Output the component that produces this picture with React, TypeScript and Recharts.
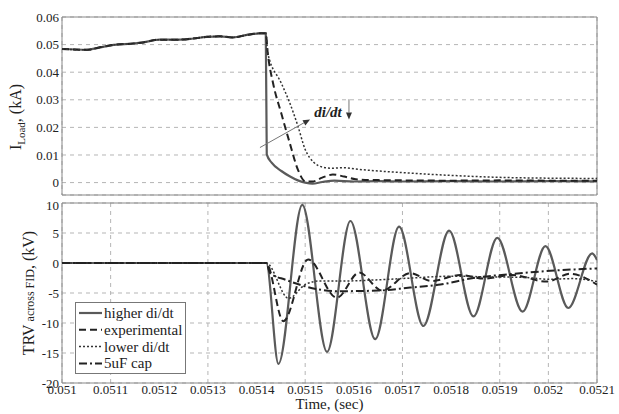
import {
  LineChart,
  Line,
  XAxis,
  YAxis,
  CartesianGrid,
  ReferenceArea,
  ReferenceLine,
  ReferenceDot,
  Legend,
} from "recharts";

const FONT = "'Liberation Serif', 'Times New Roman', serif";

// x axis
const timeTicks = [0.051, 0.0511, 0.0512, 0.0513, 0.0514, 0.0515, 0.0516, 0.0517, 0.0518, 0.0519, 0.052, 0.0521];
const timeTickLabels = ["0.051", "0.0511", "0.0512", "0.0513", "0.0514", "0.0515", "0.0516", "0.0517", "0.0518", "0.0519", "0.052", "0.0521"];

// top panel: load current (kA)
const loadTicks = [0, 0.01, 0.02, 0.03, 0.04, 0.05, 0.06];
const loadTickLabels = ["0", "0.01", "0.02", "0.03", "0.04", "0.05", "0.06"];

const preTimes = [0.051, 0.051051, 0.051078, 0.051106, 0.051147, 0.051167, 0.0512, 0.051243, 0.05127, 0.051298, 0.051325, 0.051352, 0.05138, 0.051407, 0.051419];
const preLoad = [0.0484, 0.0481, 0.049, 0.0499, 0.0504, 0.0508, 0.0518, 0.0518, 0.0522, 0.0528, 0.053, 0.0526, 0.0535, 0.0541, 0.0541];

const highLoadTimes = [0.051421, 0.051431, 0.051451, 0.051468, 0.051485, 0.0515, 0.051515, 0.051535, 0.05156, 0.0516, 0.05165, 0.0517, 0.0518, 0.0519, 0.052, 0.0521];
const highLoad = [0.0102, 0.0072, 0.0042, 0.0023, 0.0008, 0.0, -0.0004, 0.0002, 0.0007, 0.0004, 0.0005, 0.0004, 0.0005, 0.0004, 0.0005, 0.0004];

const expLoadTimes = [0.051423, 0.051434, 0.051451, 0.051468, 0.051485, 0.0515, 0.051515, 0.051535, 0.051557, 0.05158, 0.051604, 0.05165, 0.0517, 0.0518, 0.0519, 0.052, 0.0521];
const expLoad = [0.047, 0.036, 0.025, 0.0145, 0.0047, 0.0005, 0.0004, 0.0018, 0.0029, 0.0022, 0.0012, 0.0009, 0.0008, 0.0007, 0.0008, 0.0007, 0.0007];

const lowLoadTimes = [0.051423, 0.051451, 0.051468, 0.051485, 0.0515, 0.051518, 0.051536, 0.051555, 0.051578, 0.051604, 0.05165, 0.0517, 0.0518, 0.0519, 0.052, 0.0521];
const lowLoad = [0.047, 0.036, 0.029, 0.0205, 0.012, 0.0073, 0.0056, 0.0052, 0.0054, 0.0049, 0.0042, 0.0036, 0.0026, 0.0019, 0.0016, 0.0015];

// bottom panel: TRV (kV)
const trvTicks = [-20, -15, -10, -5, 0, 5, 10];

const preTrvTimes = [0.051, 0.05142];
const preTrv = [0, 0];

const highTrvTimes = [0.051445, 0.051494, 0.051545, 0.051593, 0.051644, 0.051693, 0.051743, 0.051796, 0.051846, 0.051895, 0.051947, 0.051994, 0.052041, 0.05209, 0.0521];
const highTrv = [-16.8, 9.7, -14.8, 7.0, -12.7, 6.05, -10.5, 5.4, -8.9, 4.2, -8.1, 2.8, -7.5, 1.6, 0.5];

const expTrvTimes = [0.051455, 0.051506, 0.051565, 0.051611, 0.051658, 0.051716, 0.05176, 0.051819, 0.051868, 0.051925, 0.051997, 0.052045, 0.0521];
const expTrv = [-9.7, 0.6, -5.8, -1.6, -4.6, -1.7, -3.0, -2.0, -2.6, -2.0, -3.1, -1.8, -3.6];

const lowTrvTimes = [0.051466, 0.0515, 0.05153, 0.05158, 0.05165, 0.05172, 0.0518, 0.05187, 0.05195, 0.052, 0.05205, 0.0521];
const lowTrv = [-5.9, -3.6, -3.0, -3.0, -2.8, -2.5, -2.2, -2.3, -2.4, -2.7, -2.6, -3.1];

const capTrvTimes = [0.051428, 0.05146, 0.0515, 0.051568, 0.05165, 0.051716, 0.051778, 0.051846, 0.051915, 0.052004, 0.0521];
const capTrv = [-1.7, -2.8, -3.9, -4.7, -4.6, -4.1, -3.6, -2.5, -1.9, -1.3, -0.9];

const seriesNames = ["higher di/dt", "experimental", "lower di/dt", "5uF cap"];
const seriesStyle = [
  { stroke: "#5a5a5a", width: 2.2, dash: undefined },
  { stroke: "#222", width: 2, dash: "7 4" },
  { stroke: "#333", width: 1.5, dash: "2 2" },
  { stroke: "#222", width: 2, dash: "8 3 2 3" },
];

const zip = (ts: number[], vs: number[]) => ts.map((t, i) => ({ t, v: vs[i] }));

const loadSeries = [
  zip([...preTimes, ...highLoadTimes], [...preLoad, ...highLoad]),
  zip([...preTimes, ...expLoadTimes], [...preLoad, ...expLoad]),
  zip([...preTimes, ...lowLoadTimes], [...preLoad, ...lowLoad]),
];
const trvSeries = [
  zip([...preTrvTimes, ...highTrvTimes], [...preTrv, ...highTrv]),
  zip([...preTrvTimes, ...expTrvTimes], [...preTrv, ...expTrv]),
  zip([...preTrvTimes, ...lowTrvTimes], [...preTrv, ...lowTrv]),
  zip([...preTrvTimes, ...capTrvTimes], [...preTrv, ...capTrv]),
];

const fmtTime = (v: number) => {
  const i = timeTicks.findIndex((t) => Math.abs(t - v) < 1e-9);
  return i >= 0 ? timeTickLabels[i] : String(v);
};
const fmtLoad = (v: number) => {
  const i = loadTicks.findIndex((t) => Math.abs(t - v) < 1e-9);
  return i >= 0 ? loadTickLabels[i] : String(v);
};

const tickStyle = { fontSize: 13, fill: "#222", fontFamily: FONT };

const ArrowShape = (p: any) => {
  const { x1, y1, x2, y2 } = p;
  const a = Math.atan2(y2 - y1, x2 - x1);
  const L = 7;
  const W = 3;
  const bx = x2 - L * Math.cos(a);
  const by = y2 - L * Math.sin(a);
  const px = -Math.sin(a) * W;
  const py = Math.cos(a) * W;
  return (
    <g>
      <line x1={x1} y1={y1} x2={bx} y2={by} stroke="#777" strokeWidth={1} />
      <polygon points={`${x2},${y2} ${bx + px},${by + py} ${bx - px},${by - py}`} fill="#333" />
    </g>
  );
};

const LoadLabel = () => (
  <text x={21} y={117} transform="rotate(-90, 21, 117)" textAnchor="middle" fontFamily={FONT} fontSize={16} fill="#222">
    I<tspan fontSize={11} dy={4}>Load</tspan>
    <tspan dy={-4}>, (kA)</tspan>
  </text>
);

const TrvLabel = () => (
  <text x={34} y={96} transform="rotate(-90, 34, 96)" textAnchor="middle" fontFamily={FONT} fontSize={16} fill="#222">
    TRV<tspan fontSize={12}> across FID</tspan>, (kV)
  </text>
);

const TimeLabel = (p: any) => {
  const vb = p.viewBox || { x: 62, y: 186, width: 535, height: 31 };
  return (
    <text x={vb.x + vb.width / 2} y={vb.y + 26} textAnchor="middle" fontFamily={FONT} fontSize={15} fill="#222">
      Time, (sec)
    </text>
  );
};

const LegendBox = () => (
  <svg width={111} height={72} style={{ display: "block" }}>
    <rect x={0.5} y={0.5} width={110} height={71} fill="#fff" stroke="#777" />
    {seriesNames.map((name, i) => {
      const s = seriesStyle[i];
      const cy = 11 + i * 16.8;
      return (
        <g key={name}>
          <line x1={4} x2={27} y1={cy} y2={cy} stroke={s.stroke} strokeWidth={s.width} strokeDasharray={s.dash} />
          <text x={29} y={cy} dominantBaseline="central" fontFamily={FONT} fontSize={15} fill="#222">
            {name}
          </text>
        </g>
      );
    })}
  </svg>
);

export default function App() {
  return (
    <div style={{ position: "relative", width: 619, height: 414, background: "#fff", fontFamily: FONT }}>
      <style>{"body{margin:0;background:#fff}"}</style>

      <div style={{ position: "absolute", left: 0, top: 0 }}>
        <LineChart width={619} height={200} margin={{ top: 17, right: 22, bottom: 5, left: 0 }}>
          <CartesianGrid strokeDasharray="4 4" stroke="#b5b5b5" />
          <XAxis
            dataKey="t"
            type="number"
            domain={[0.051, 0.0521]}
            ticks={timeTicks}
            allowDataOverflow
            height={0}
            tick={false}
            tickLine={false}
            axisLine={false}
          />
          <YAxis
            dataKey="v"
            type="number"
            domain={[-0.0045, 0.06]}
            ticks={loadTicks}
            allowDataOverflow
            width={62}
            tickSize={0}
            tickMargin={3}
            tickLine={false}
            axisLine={false}
            tick={tickStyle}
            tickFormatter={fmtLoad}
            label={{ content: LoadLabel }}
          />
          <ReferenceArea x1={0.051} x2={0.0521} y1={-0.0045} y2={0.06} fill="none" stroke="#888" strokeOpacity={1} />
          {loadSeries.map((d, i) => (
            <Line
              key={i}
              data={d}
              dataKey="v"
              type="monotone"
              stroke={seriesStyle[i].stroke}
              strokeWidth={seriesStyle[i].width}
              strokeDasharray={seriesStyle[i].dash}
              dot={false}
              isAnimationActive={false}
            />
          ))}
          <ReferenceLine
            segment={[{ x: 0.051407, y: 0.0127 }, { x: 0.05151, y: 0.0229 }]}
            shape={ArrowShape}
          />
          <ReferenceLine
            segment={[{ x: 0.05159, y: 0.0302 }, { x: 0.05159, y: 0.0229 }]}
            shape={ArrowShape}
          />
          <ReferenceDot
            x={0.051547}
            y={0.0255}
            r={0}
            shape={(p: any) => (
              <text x={p.cx} y={p.cy} textAnchor="middle" dominantBaseline="central" fontFamily={FONT} fontSize={15} fontStyle="italic" fontWeight="bold" fill="#222">
                di/dt
              </text>
            )}
          />
        </LineChart>
      </div>

      <div style={{ position: "absolute", left: 0, top: 197 }}>
        <LineChart width={619} height={217} margin={{ top: 6, right: 22, bottom: 0, left: 0 }}>
          <CartesianGrid strokeDasharray="4 4" stroke="#b5b5b5" />
          <XAxis
            dataKey="t"
            type="number"
            domain={[0.051, 0.0521]}
            ticks={timeTicks}
            allowDataOverflow
            height={31}
            tickSize={0}
            tickMargin={2}
            tickLine={false}
            axisLine={false}
            tick={tickStyle}
            tickFormatter={fmtTime}
            label={{ content: TimeLabel }}
          />
          <YAxis
            dataKey="v"
            type="number"
            domain={[-20, 10]}
            ticks={trvTicks}
            allowDataOverflow
            width={62}
            tickSize={0}
            tickMargin={3}
            tickLine={false}
            axisLine={false}
            tick={tickStyle}
            label={{ content: TrvLabel }}
          />
          <ReferenceArea x1={0.051} x2={0.0521} y1={-20} y2={10} fill="none" stroke="#888" strokeOpacity={1} />
          {trvSeries.map((d, i) => (
            <Line
              key={i}
              data={d}
              dataKey="v"
              type="monotone"
              stroke={seriesStyle[i].stroke}
              strokeWidth={seriesStyle[i].width}
              strokeDasharray={seriesStyle[i].dash}
              dot={false}
              isAnimationActive={false}
            />
          ))}
          <Legend
            layout="vertical"
            align="center"
            verticalAlign="middle"
            wrapperStyle={{ left: 75, top: 105, width: 111, height: 72 }}
            content={LegendBox}
          />
        </LineChart>
      </div>
    </div>
  );
}
